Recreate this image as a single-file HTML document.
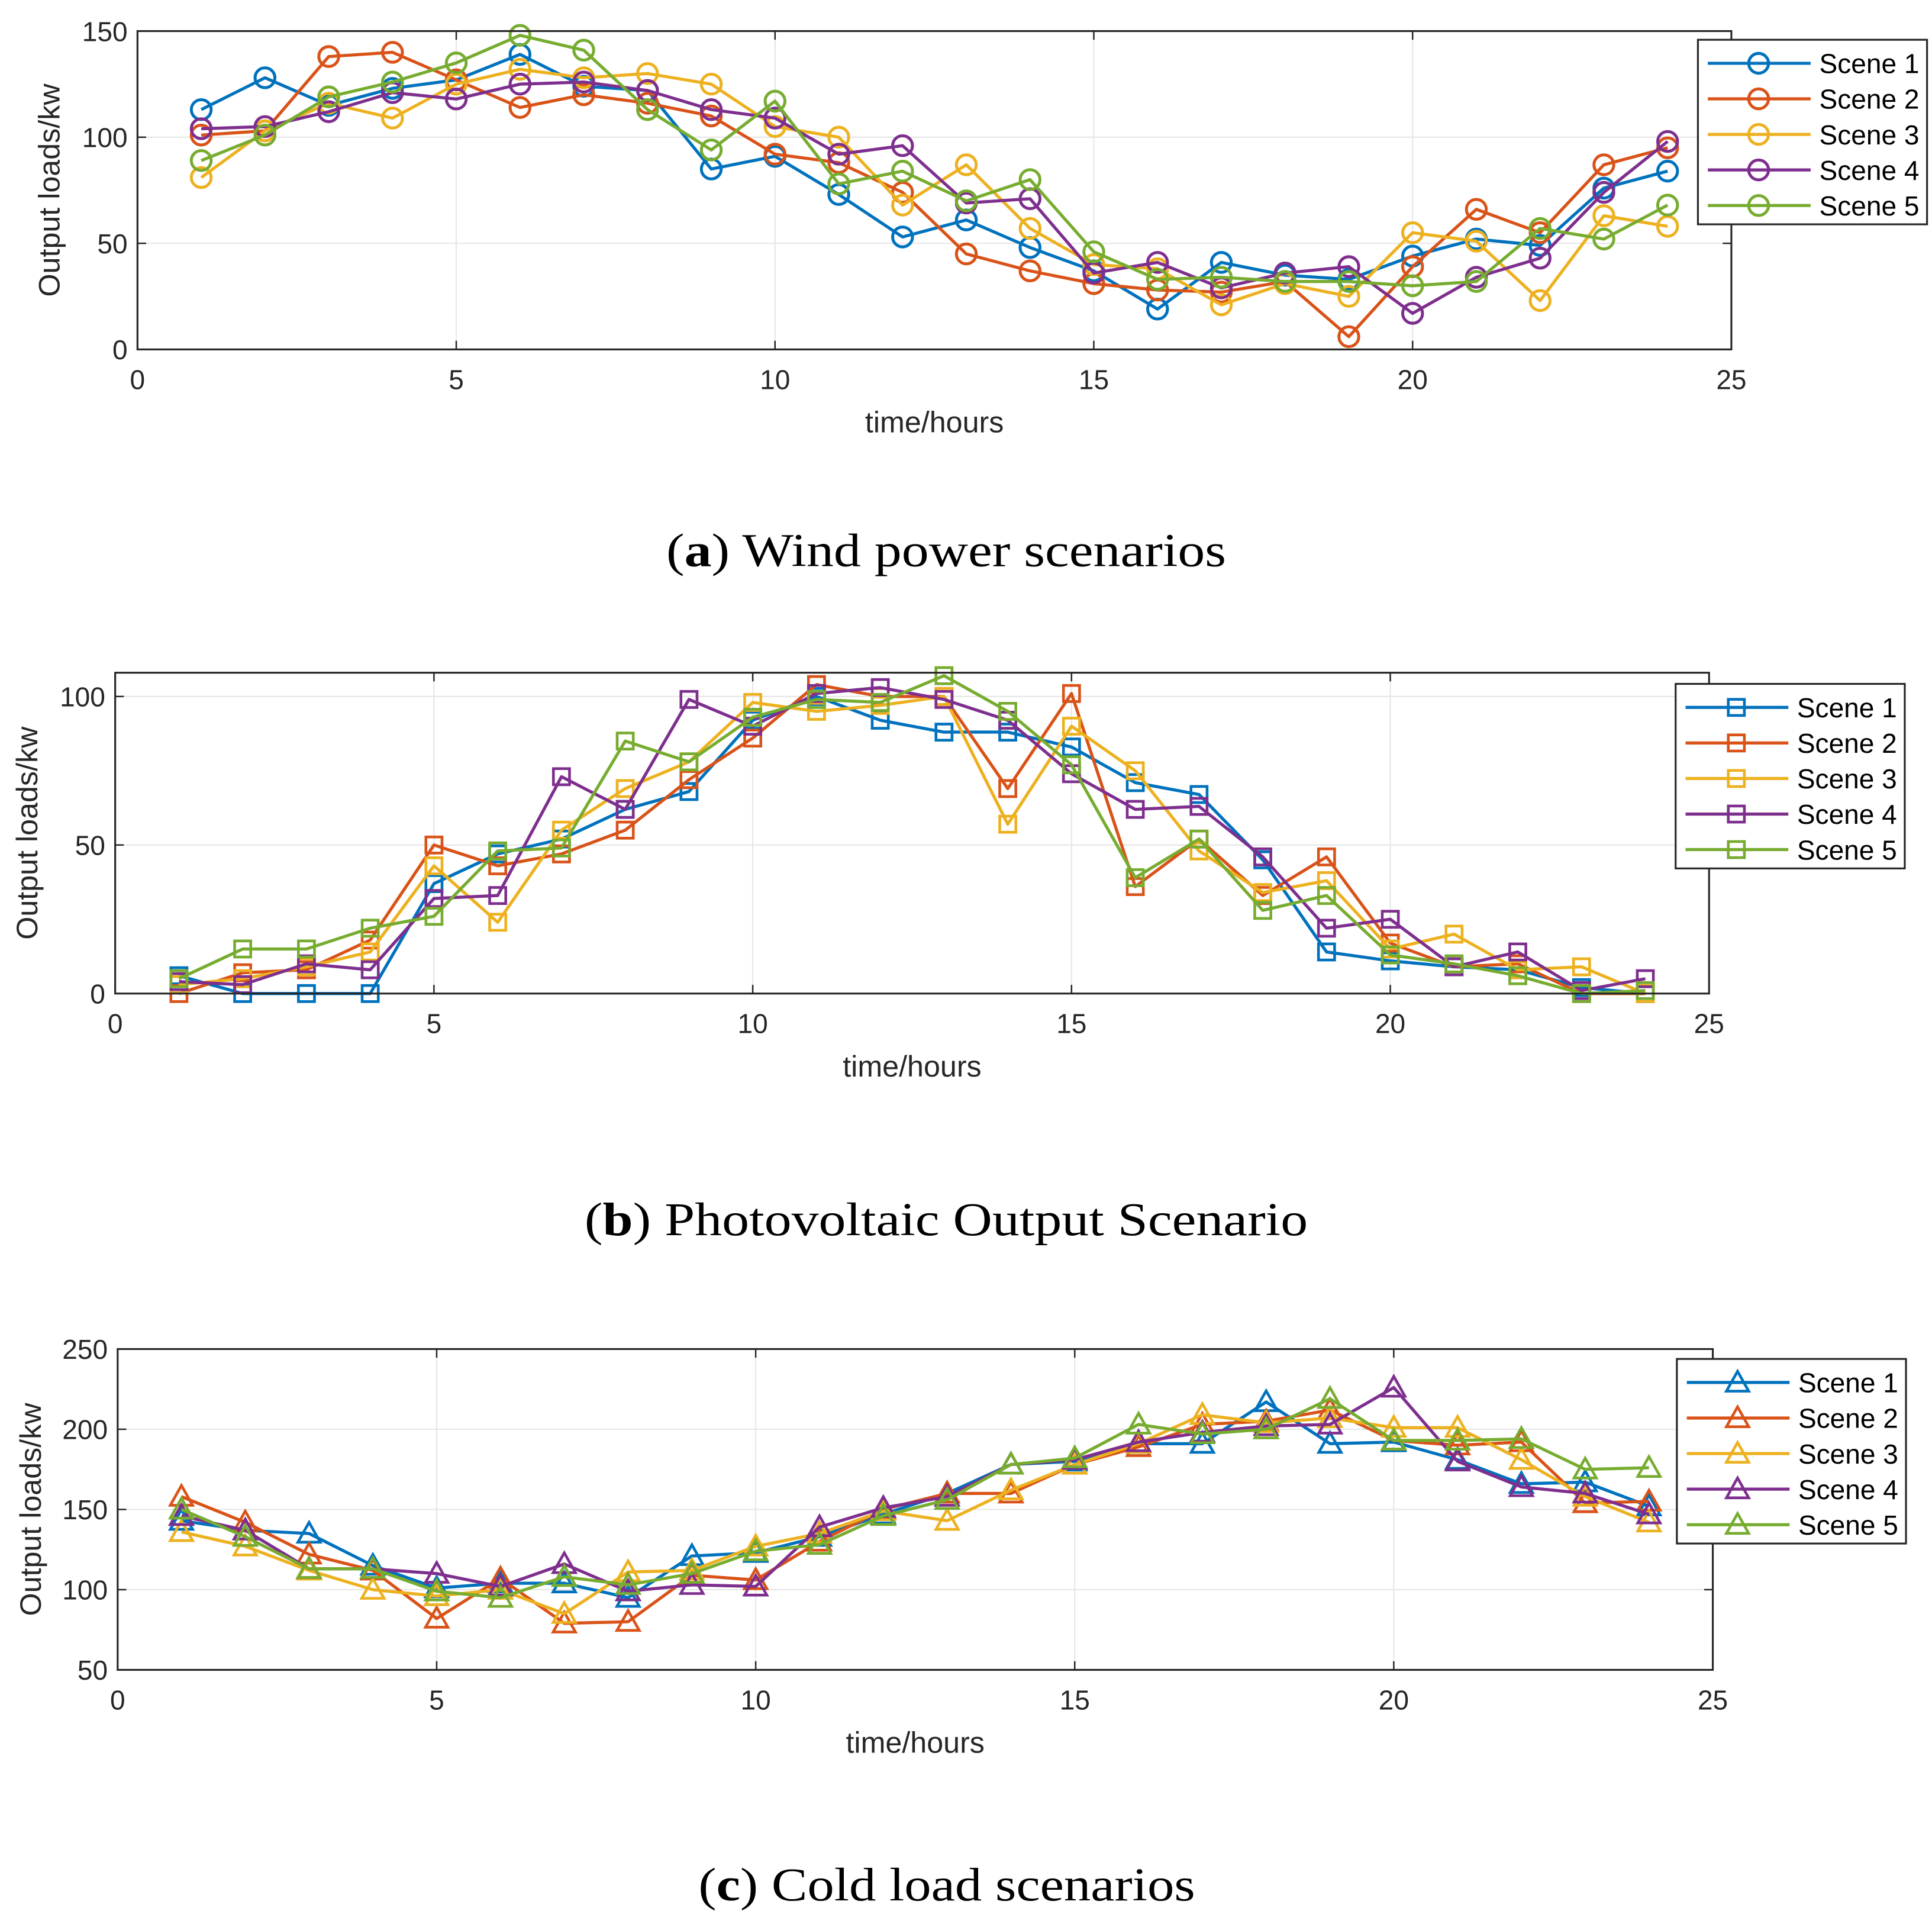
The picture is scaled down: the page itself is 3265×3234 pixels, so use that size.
<!DOCTYPE html>
<html><head><meta charset="utf-8">
<style>
html,body{margin:0;padding:0;background:#fff;}
svg{display:block;}
text{font-family:"Liberation Sans",sans-serif;}
.cap{font-family:"Liberation Serif",serif;}
</style></head>
<body>
<svg id="fig" width="3265" height="3234" viewBox="0 0 1560 1545" xmlns="http://www.w3.org/2000/svg">
<rect width="1560" height="1545" fill="#fff"/>
<text class="cap" x="538" y="457" font-size="38" textLength="452" lengthAdjust="spacingAndGlyphs" fill="#000">(<tspan font-weight="bold">a</tspan>) Wind power scenarios</text>
<text class="cap" x="472" y="997" font-size="38" textLength="584" lengthAdjust="spacingAndGlyphs" fill="#000">(<tspan font-weight="bold">b</tspan>) Photovoltaic Output Scenario</text>
<text class="cap" x="564" y="1534" font-size="38" textLength="401" lengthAdjust="spacingAndGlyphs" fill="#000">(<tspan font-weight="bold">c</tspan>) Cold load scenarios</text>
</svg>
<script>
const hours=[1,2,3,4,5,6,7,8,9,10,11,12,13,14,15,16,17,18,19,20,21,22,23,24];
const seriesNames=["Scene 1","Scene 2","Scene 3","Scene 4","Scene 5"];
const colors=["#0072BD","#D95319","#EDB120","#7E2F8E","#77AC30"];
const xTicks=[0,5,10,15,20,25];
const windS1=[113,128,115,123,127,139,124,122,85,91,73,53,61,48,37,19,41,35,33,44,52,49,76,84];
const windS2=[101,103,138,140,127,114,120,116,110,92,88,74,45,37,31,28,27,32,6,39,66,55,87,95];
const windS3=[81,103,116,109,125,132,128,130,125,105,100,68,87,57,40,38,21,31,25,55,51,23,63,58];
const windS4=[104,105,112,121,118,125,126,122,113,109,92,96,69,71,36,41,29,36,39,17,34,43,74,98];
const windS5=[89,101,119,126,135,148,141,113,94,117,78,84,70,80,46,33,34,32,32,30,32,57,52,68];
const windTicks=[0,50,100,150];
const pvS1=[6,0,0,0,37,47,52,62,68,92,100,92,88,88,83,71,67,45,14,11,9,8,2,0];
const pvS2=[0,7,8,18,50,43,47,55,72,86,104,100,100,69,101,36,52,33,46,17,9,10,0,0];
const pvS3=[3,5,9,14,43,24,55,69,78,98,95,97,100,57,90,75,48,34,38,15,20,8,9,0];
const pvS4=[4,3,10,8,32,33,73,62,99,90,101,103,99,92,74,62,63,46,22,25,9,14,1,5];
const pvS5=[5,15,15,22,26,48,49,85,78,93,99,98,107,95,77,39,52,28,33,13,10,6,0,1];
const pvTicks=[0,50,100];
const coldS1=[143,137,135,115,101,104,104,95,121,123,133,147,160,178,180,191,191,217,191,192,181,166,167,152];
const coldS2=[158,142,122,112,82,107,79,80,109,106,130,150,160,160,178,189,203,205,212,193,190,192,154,155];
const coldS3=[136,127,112,100,96,100,85,111,112,127,135,149,143,162,178,191,209,204,207,201,201,181,158,142];
const coldS4=[146,137,113,113,110,102,116,99,103,102,139,151,158,178,181,192,198,202,203,226,180,164,160,147];
const coldS5=[150,133,113,113,99,95,108,103,110,124,128,146,156,178,182,203,197,200,219,193,193,194,175,176];
const coldTicks=[50,100,150,200,250];

const NS="http://www.w3.org/2000/svg";
const svg=document.getElementById('fig');
function mk(tag,attrs,parent){const e=document.createElementNS(NS,tag);for(const k in attrs)e.setAttribute(k,attrs[k]);(parent||svg).appendChild(e);return e;}

function marker(g,type,x,y,c){
  let e;
  if(type==='circle'){e=mk('circle',{cx:x,cy:y,r:8,fill:'none',stroke:c,'stroke-width':2.4},g);}
  else if(type==='square'){e=mk('rect',{x:x-6.5,y:y-6.5,width:13,height:13,fill:'none',stroke:c,'stroke-width':2.2},g);}
  else {e=mk('polygon',{points:`${x},${y-9} ${x-9},${y+7} ${x+9},${y+7}`,fill:'none',stroke:c,'stroke-width':2.2},g);}
  return e;
}

function panel(cfg){
  const {id,x0,x1,yTop,yBot,ymin,ymax,yTicks,data,type,leg}=cfg;
  const g=mk('g',{});
  
  
  const X=v=>x0+(v-0)/25*(x1-x0);
  const Y=v=>yBot-(v-ymin)/(ymax-ymin)*(yBot-yTop);
  xTicks.forEach(t=>{const l=mk('line',{x1:X(t),x2:X(t),y1:yTop,y2:yBot,stroke:'#e6e6e6','stroke-width':1},g);
    });
  yTicks.forEach(t=>{const l=mk('line',{x1:x0,x2:x1,y1:Y(t),y2:Y(t),stroke:'#e6e6e6','stroke-width':1},g);
    });
  data.forEach((arr,i)=>{
    const sg=mk('g',{},g);
    
    
    const pts=arr.map((v,j)=>X(hours[j])+','+Y(v)).join(' ');
    mk('polyline',{points:pts,fill:'none',stroke:colors[i],'stroke-width':2.5,'stroke-linejoin':'round'},sg);
    arr.forEach((v,j)=>{const m=marker(sg,type,X(hours[j]),Y(v),colors[i]);
      });
  });
  const b=mk('rect',{x:x0,y:yTop,width:x1-x0,height:yBot-yTop,fill:'none',stroke:'#262626','stroke-width':1.5},g);
  
  xTicks.forEach(t=>{
    mk('line',{x1:X(t),x2:X(t),y1:yBot,y2:yBot-7,stroke:'#262626','stroke-width':1.2},g);
    mk('line',{x1:X(t),x2:X(t),y1:yTop,y2:yTop+7,stroke:'#262626','stroke-width':1.2},g);
    const tx=mk('text',{x:X(t),y:yBot+32,'font-size':22,'text-anchor':'middle',fill:'#262626'},g);tx.textContent=t;
    
  });
  yTicks.forEach(t=>{
    mk('line',{x1:x0,x2:x0+7,y1:Y(t),y2:Y(t),stroke:'#262626','stroke-width':1.2},g);
    mk('line',{x1:x1,x2:x1-7,y1:Y(t),y2:Y(t),stroke:'#262626','stroke-width':1.2},g);
    const tx=mk('text',{x:x0-8,y:Y(t)+8,'font-size':22,'text-anchor':'end',fill:'#262626'},g);tx.textContent=t;
    
  });
  const xl=mk('text',{x:(x0+x1)/2,y:yBot+67,'font-size':24,'text-anchor':'middle',fill:'#262626'},g);xl.textContent='time/hours';
  
  const yx=cfg.ylx, yy=(yTop+yBot)/2;
  const yl=mk('text',{x:yx,y:yy,'font-size':24,'text-anchor':'middle',fill:'#262626',transform:`rotate(-90 ${yx} ${yy})`},g);yl.textContent='Output loads/kw';
  
  const lg=mk('g',{},g);
  
  
  mk('rect',{x:leg.x,y:leg.y,width:185,height:149,fill:'#fff',stroke:'#262626','stroke-width':1.5},lg);
  seriesNames.forEach((n,i)=>{
    const yy2=leg.y+19+i*28.7;
    const e=mk('g',{},lg);
    
    
    mk('line',{x1:leg.x+8,x2:leg.x+91,y1:yy2,y2:yy2,stroke:colors[i],'stroke-width':2.5},e);
    marker(e,type,leg.x+49,yy2,colors[i]);
    const t=mk('text',{x:leg.x+98,y:yy2+8,'font-size':22,fill:'#000'},e);t.textContent=n;
  });
}
panel({id:'wind',x0:111,x1:1398,yTop:25,yBot:282,ymin:0,ymax:150,yTicks:windTicks,data:[windS1,windS2,windS3,windS4,windS5],type:'circle',leg:{x:1371,y:32},ylx:48});
panel({id:'pv',x0:93,x1:1380,yTop:543,yBot:802,ymin:0,ymax:108,yTicks:pvTicks,data:[pvS1,pvS2,pvS3,pvS4,pvS5],type:'square',leg:{x:1353,y:552},ylx:30});
panel({id:'cold',x0:95,x1:1383,yTop:1089,yBot:1348,ymin:50,ymax:250,yTicks:coldTicks,data:[coldS1,coldS2,coldS3,coldS4,coldS5],type:'triangle',leg:{x:1354,y:1097},ylx:33});
</script>
</body></html>
